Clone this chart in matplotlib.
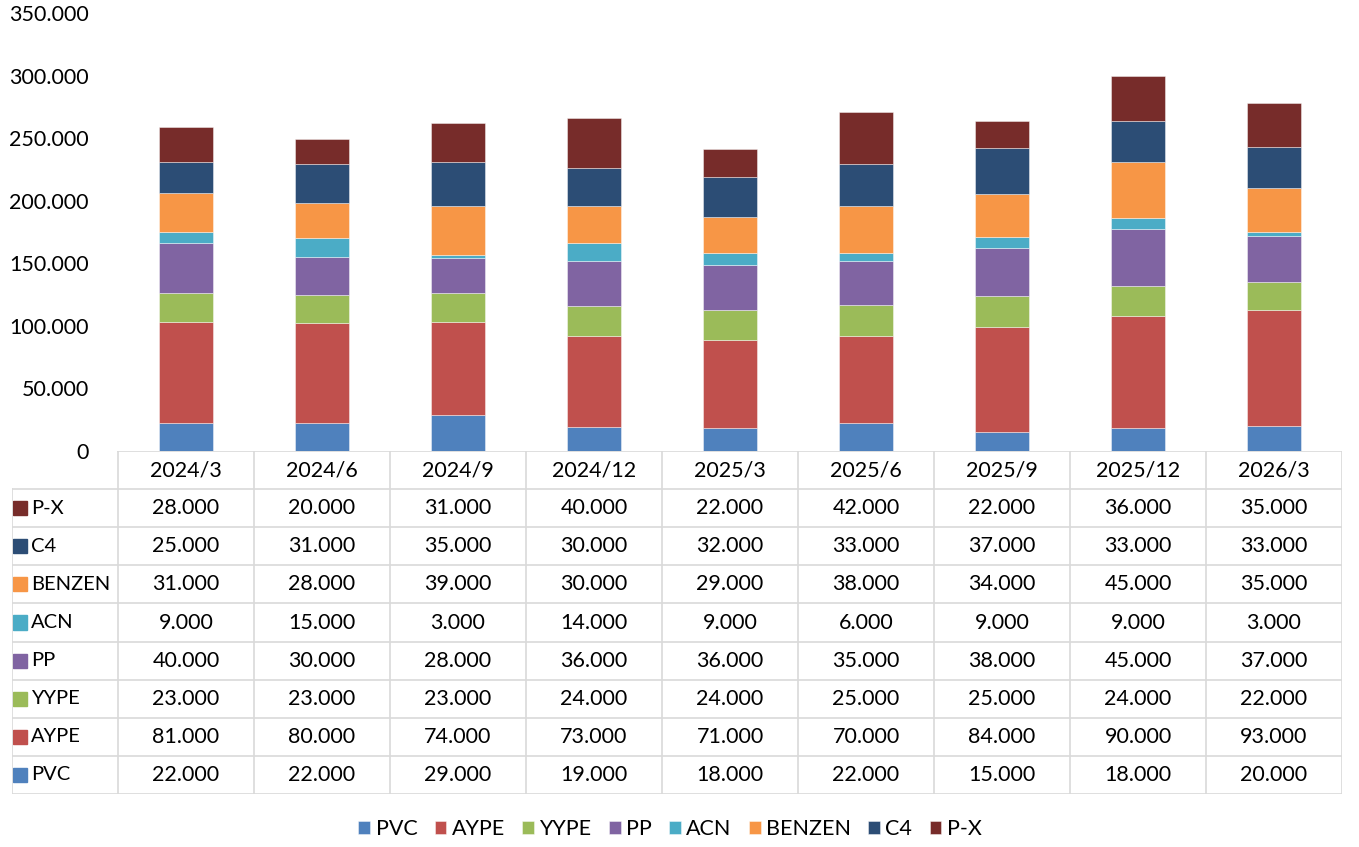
import numpy as np
import matplotlib.pyplot as plt
from matplotlib.patches import Rectangle

plt.rcParams['font.family'] = ['Lato', 'DejaVu Sans']

# data
periods = ['2024/3', '2024/6', '2024/9', '2024/12', '2025/3', '2025/6', '2025/9', '2025/12', '2026/3']
series = ['PVC', 'AYPE', 'YYPE', 'PP', 'ACN', 'BENZEN', 'C4', 'P-X']
pvc = [22, 22, 29, 19, 18, 22, 15, 18, 20]
aype = [81, 80, 74, 73, 71, 70, 84, 90, 93]
yype = [23, 23, 23, 24, 24, 25, 25, 24, 22]
pp = [40, 30, 28, 36, 36, 35, 38, 45, 37]
acn = [9, 15, 3, 14, 9, 6, 9, 9, 3]
benzen = [31, 28, 39, 30, 29, 38, 34, 45, 35]
c4 = [25, 31, 35, 30, 32, 33, 37, 33, 33]
px = [28, 20, 31, 40, 22, 42, 22, 36, 35]
colors = ['#4F81BD', '#C0504D', '#9BBB59', '#8064A2', '#4BACC6', '#F79646', '#2C4D75', '#772C2A']

values = [pvc, aype, yype, pp, acn, benzen, c4, px]
fs = 15.5

W, H = 1359, 847
fig = plt.figure(figsize=(W / 100, H / 100), dpi=100)

# chart area
left, right = 118, 1342
ax = fig.add_axes([left / W, 1 - 451 / H, (right - left) / W, (451 - 13) / H])
x = np.arange(len(periods))
bottom = np.zeros(len(periods))
handles = []
for name, vals, col in zip(series, values, colors):
    b = ax.bar(x, vals, 0.40, bottom=bottom, color=col, label=name,
               edgecolor='#ffffff80', linewidth=0.6)
    handles.append(b)
    bottom += np.array(vals)
ax.set_xlim(-0.5, len(periods) - 0.5)
ax.set_ylim(0, 350)
ax.set_yticks(np.arange(0, 351, 50))
ax.set_yticklabels(['0'] + [f'{v:.3f}' for v in np.arange(50, 351, 50)], fontsize=fs)
ax.tick_params(axis='y', length=0, pad=21)
ax.set_xticks([])
for s in ax.spines.values():
    s.set_visible(False)

# data table below the chart
lab_w = (left - 12) / 136
tab = fig.add_axes([12 / W, 1 - 794 / H, (right - 12) / W, (794 - 451) / H])
n = len(periods)
nrow = len(series) + 1
tab.set_xlim(-0.5 - lab_w, n - 0.5)
tab.set_ylim(0, nrow)
tab.axis('off')
gc = '#D9D9D9'
for r in range(nrow):
    tab.plot([-0.5 - lab_w, n - 0.5], [r, r], color=gc, lw=1.2)
tab.plot([-0.5, n - 0.5], [nrow, nrow], color=gc, lw=1.2)
for c in range(n + 1):
    tab.plot([c - 0.5, c - 0.5], [0, nrow], color=gc, lw=1.2)
tab.plot([-0.5 - lab_w, -0.5 - lab_w], [0, nrow - 1], color=gc, lw=1.2)

for i, p in enumerate(periods):
    tab.text(i, nrow - 0.5, p, ha='center', va='center', fontsize=fs)
for r, (name, vals, col) in enumerate(zip(series, values, colors)):
    yc = r + 0.5
    sw = 14 / 136
    tab.add_patch(Rectangle((-0.5 - lab_w + 1 / 136, yc - 7 / 38), sw, 14 / 38, color=col))
    tab.text(-0.5 - lab_w + 19 / 136, yc, name, ha='left', va='center', fontsize=14.5)
    for i, v in enumerate(vals):
        tab.text(i, yc, f'{v:.3f}', ha='center', va='center', fontsize=fs)

fig.legend(handles=handles, loc='center', bbox_to_anchor=(670 / W, 1 - 829 / H), ncol=8,
           frameon=False, fontsize=fs, handlelength=0.55, handleheight=0.55,
           handletextpad=0.25, columnspacing=0.8)

fig.savefig('out.png', dpi=100)
